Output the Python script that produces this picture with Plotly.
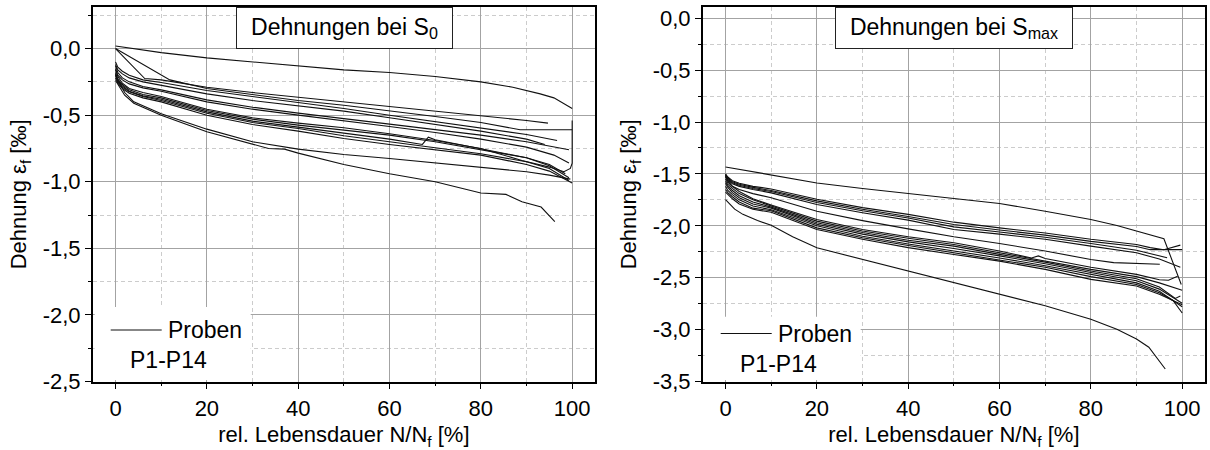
import plotly.graph_objects as go

# ---------------- data: left panel "Dehnungen bei S0" ----------------
S0_P1_X = [0, 10, 20, 30, 40, 50, 60, 70, 80, 87, 93, 96, 100]
S0_P1_Y = [0.02, -0.03, -0.07, -0.10, -0.13, -0.16, -0.18, -0.21, -0.25, -0.29, -0.34, -0.37, -0.45]
S0_P2_X = [0, 6.4, 10, 20, 30, 40, 50, 60, 70, 80, 90, 94.7]
S0_P2_Y = [0, -0.225, -0.235, -0.29, -0.33, -0.365, -0.40, -0.435, -0.47, -0.50, -0.54, -0.56]
S0_P3_X = [0, 11.9, 20, 30, 40, 50, 60, 70, 80, 88.6, 100]
S0_P3_Y = [0, -0.235, -0.30, -0.345, -0.39, -0.425, -0.465, -0.51, -0.555, -0.61, -0.61]
S0_P4_X = [0, 0.5, 1.5, 3, 6, 10, 20, 30, 40, 50, 60, 70, 80, 90, 96.7]
S0_P4_Y = [-0.10, -0.14, -0.17, -0.20, -0.235, -0.255, -0.315, -0.36, -0.40, -0.45, -0.50, -0.55, -0.595, -0.645, -0.69]
S0_P5_X = [0, 0.5, 1.5, 3, 6, 10, 20, 30, 40, 50, 60, 70, 80, 90, 94]
S0_P5_Y = [-0.12, -0.16, -0.19, -0.22, -0.25, -0.275, -0.34, -0.39, -0.43, -0.47, -0.52, -0.57, -0.62, -0.68, -0.72]
S0_P6_X = [0, 0.5, 1.5, 3, 6, 10, 20, 30, 40, 50, 60, 70, 80, 90, 99.3]
S0_P6_Y = [-0.13, -0.18, -0.22, -0.25, -0.285, -0.31, -0.385, -0.44, -0.485, -0.525, -0.565, -0.605, -0.65, -0.70, -0.76]
S0_P7_X = [0, 0.5, 1.5, 3, 6, 10, 20, 30, 40, 50, 60, 70, 80, 90, 96, 99.3]
S0_P7_Y = [-0.15, -0.20, -0.235, -0.265, -0.295, -0.32, -0.40, -0.455, -0.50, -0.54, -0.585, -0.63, -0.68, -0.74, -0.80, -0.86]
S0_P8_X = [0, 0.5, 1.5, 3, 6, 10, 20, 30, 40, 50, 60, 70, 80, 89, 95, 98.2, 99.6, 100, 100]
S0_P8_Y = [-0.16, -0.21, -0.26, -0.30, -0.33, -0.36, -0.455, -0.52, -0.56, -0.595, -0.64, -0.69, -0.75, -0.84, -0.89, -0.925, -0.90, -0.86, -0.54]
S0_P9_X = [0, 0.5, 1.5, 3, 6, 10, 20, 30, 40, 50, 60, 70, 80, 90, 95, 98.5]
S0_P9_Y = [-0.18, -0.23, -0.27, -0.31, -0.345, -0.37, -0.465, -0.53, -0.575, -0.61, -0.65, -0.70, -0.76, -0.82, -0.87, -0.94]
S0_P10_X = [0, 0.5, 1.5, 3, 6, 10, 20, 30, 40, 50, 60, 67.2, 68.5, 70, 80, 90, 95, 99.3]
S0_P10_Y = [-0.19, -0.24, -0.28, -0.32, -0.355, -0.38, -0.475, -0.545, -0.59, -0.635, -0.68, -0.72, -0.665, -0.685, -0.75, -0.82, -0.88, -0.97]
S0_P11_X = [0, 0.5, 1.5, 3, 6, 10, 20, 30, 40, 50, 60, 70, 80, 90, 95, 99.3]
S0_P11_Y = [-0.20, -0.25, -0.29, -0.325, -0.36, -0.39, -0.485, -0.555, -0.60, -0.655, -0.70, -0.745, -0.79, -0.85, -0.90, -0.99]
S0_P12_X = [0, 0.5, 1.5, 3, 6, 10, 20, 30, 40, 50, 60, 70, 80, 90, 95, 100]
S0_P12_Y = [-0.22, -0.26, -0.30, -0.335, -0.37, -0.40, -0.50, -0.57, -0.62, -0.675, -0.72, -0.76, -0.80, -0.87, -0.92, -1.01]
S0_P13_X = [0, 1, 2, 4, 10, 20, 30, 40, 50, 60, 70, 80, 90, 95, 99.6]
S0_P13_Y = [-0.20, -0.27, -0.33, -0.40, -0.49, -0.605, -0.70, -0.755, -0.795, -0.825, -0.86, -0.89, -0.925, -0.95, -0.98]
S0_P14_X = [0, 1, 2, 4, 10, 20, 30, 33.5, 37, 40, 50, 60, 70, 80, 85.5, 89, 93.2, 96.2]
S0_P14_Y = [-0.24, -0.30, -0.35, -0.41, -0.50, -0.625, -0.72, -0.75, -0.755, -0.785, -0.87, -0.94, -1.00, -1.085, -1.095, -1.15, -1.19, -1.30]

# ---------------- data: right panel "Dehnungen bei Smax" ----------------
SM_P1_X = [0, 10, 20, 30, 40, 50, 60, 70, 80, 85.7, 90, 93, 96, 99.8]
SM_P1_Y = [-1.433, -1.507, -1.587, -1.64, -1.69, -1.741, -1.785, -1.86, -1.94, -1.997, -2.05, -2.09, -2.125, -2.565]
SM_P2_X = [0, 0.5, 1.5, 3, 6, 10, 20, 30, 40, 50, 60, 70, 80, 90, 93, 96, 99.6]
SM_P2_Y = [-1.50, -1.53, -1.565, -1.59, -1.62, -1.645, -1.745, -1.825, -1.89, -1.965, -2.02, -2.07, -2.13, -2.18, -2.21, -2.23, -2.186]
SM_P3_X = [0, 0.5, 1.5, 3, 6, 10, 20, 30, 40, 50, 60, 70, 80, 90, 93, 100]
SM_P3_Y = [-1.505, -1.54, -1.575, -1.60, -1.63, -1.66, -1.76, -1.84, -1.91, -1.987, -2.04, -2.09, -2.15, -2.20, -2.23, -2.23]
SM_P4_X = [0, 0.5, 1.5, 3, 6, 10, 20, 30, 40, 50, 60, 70, 80, 90, 96.7]
SM_P4_Y = [-1.51, -1.55, -1.585, -1.61, -1.64, -1.67, -1.775, -1.855, -1.925, -2.01, -2.06, -2.11, -2.17, -2.235, -2.308]
SM_P5_X = [0, 0.5, 1.5, 3, 6, 10, 20, 30, 40, 50, 60, 70, 80, 90, 95, 99.6]
SM_P5_Y = [-1.515, -1.56, -1.595, -1.62, -1.65, -1.683, -1.795, -1.875, -1.945, -2.036, -2.08, -2.13, -2.196, -2.26, -2.32, -2.40]
SM_P6_X = [0, 0.5, 1.5, 3, 6, 10, 20, 30, 40, 50, 60, 70, 80, 85, 95.1]
SM_P6_Y = [-1.52, -1.57, -1.62, -1.65, -1.69, -1.73, -1.86, -1.95, -2.03, -2.106, -2.17, -2.243, -2.324, -2.355, -2.37]
SM_P7_X = [0, 0.5, 1.5, 3, 6, 10, 20, 30, 40, 50, 60, 67, 68.5, 70, 80, 90, 95, 97, 99]
SM_P7_Y = [-1.53, -1.57, -1.62, -1.67, -1.74, -1.80, -1.94, -2.036, -2.106, -2.164, -2.243, -2.31, -2.29, -2.315, -2.40, -2.468, -2.52, -2.525, -2.485]
SM_P8_X = [0, 0.5, 1.5, 3, 6, 10, 20, 30, 40, 50, 60, 70, 80, 90, 95, 100]
SM_P8_Y = [-1.55, -1.59, -1.64, -1.69, -1.75, -1.81, -1.955, -2.05, -2.12, -2.18, -2.26, -2.335, -2.42, -2.49, -2.55, -2.62]
SM_P9_X = [0, 0.5, 1.5, 3, 6, 10, 20, 30, 40, 50, 60, 70, 80, 90, 95, 98.5, 99.6]
SM_P9_Y = [-1.57, -1.61, -1.66, -1.71, -1.77, -1.82, -1.97, -2.065, -2.14, -2.196, -2.275, -2.35, -2.435, -2.51, -2.59, -2.70, -2.676]
SM_P10_X = [0, 0.5, 1.5, 3, 6, 10, 20, 30, 40, 50, 60, 70, 80, 90, 95, 100]
SM_P10_Y = [-1.59, -1.63, -1.68, -1.73, -1.79, -1.83, -1.985, -2.08, -2.155, -2.218, -2.29, -2.365, -2.45, -2.53, -2.61, -2.747]
SM_P11_X = [0, 0.5, 1.5, 3, 6, 10, 20, 30, 40, 50, 60, 70, 80, 90, 95, 100]
SM_P11_Y = [-1.62, -1.66, -1.70, -1.75, -1.81, -1.845, -2.00, -2.10, -2.175, -2.24, -2.31, -2.385, -2.47, -2.55, -2.63, -2.78]
SM_P12_X = [0, 0.5, 1.5, 3, 6, 10, 20, 30, 40, 50, 60, 70, 80, 90, 95, 98, 100]
SM_P12_Y = [-1.65, -1.68, -1.72, -1.77, -1.83, -1.855, -2.02, -2.115, -2.19, -2.26, -2.325, -2.40, -2.49, -2.565, -2.645, -2.72, -2.84]
SM_P13_X = [0, 0.5, 1.5, 3, 6, 10, 20, 30, 40, 50, 60, 70, 80, 90, 95, 100]
SM_P13_Y = [-1.676, -1.70, -1.74, -1.79, -1.84, -1.87, -2.036, -2.13, -2.21, -2.276, -2.34, -2.42, -2.516, -2.58, -2.66, -2.76]
SM_P14_X = [0, 1, 2, 3.8, 7, 10, 14.7, 20, 30, 40, 50, 60, 70, 80, 85.7, 90, 92.7, 96.3]
SM_P14_Y = [-1.747, -1.79, -1.84, -1.89, -1.95, -1.995, -2.106, -2.212, -2.325, -2.436, -2.548, -2.66, -2.77, -2.90, -2.997, -3.09, -3.17, -3.38]

# ---------------- tick labels ----------------
X_TICKS = [0, 20, 40, 60, 80, 100]
X_TICKTEXT = ["0", "20", "40", "60", "80", "100"]
X_MINOR = [10, 30, 50, 70, 90]
S0_YTICKS = [0, -0.5, -1.0, -1.5, -2.0, -2.5]
S0_YTICKTEXT = ["0,0", "-0,5", "-1,0", "-1,5", "-2,0", "-2,5"]
S0_YMINOR = [0.25, -0.25, -0.75, -1.25, -1.75, -2.25]
SM_YTICKS = [0, -0.5, -1.0, -1.5, -2.0, -2.5, -3.0, -3.5]
SM_YTICKTEXT = ["0,0", "-0,5", "-1,0", "-1,5", "-2,0", "-2,5", "-3,0", "-3,5"]
SM_YMINOR = [-0.25, -0.75, -1.25, -1.75, -2.25, -2.75, -3.25]

S0_CURVES = [(S0_P1_X, S0_P1_Y), (S0_P2_X, S0_P2_Y), (S0_P3_X, S0_P3_Y), (S0_P4_X, S0_P4_Y),
             (S0_P5_X, S0_P5_Y), (S0_P6_X, S0_P6_Y), (S0_P7_X, S0_P7_Y), (S0_P8_X, S0_P8_Y),
             (S0_P9_X, S0_P9_Y), (S0_P10_X, S0_P10_Y), (S0_P11_X, S0_P11_Y), (S0_P12_X, S0_P12_Y),
             (S0_P13_X, S0_P13_Y), (S0_P14_X, S0_P14_Y)]
SM_CURVES = [(SM_P1_X, SM_P1_Y), (SM_P2_X, SM_P2_Y), (SM_P3_X, SM_P3_Y), (SM_P4_X, SM_P4_Y),
             (SM_P5_X, SM_P5_Y), (SM_P6_X, SM_P6_Y), (SM_P7_X, SM_P7_Y), (SM_P8_X, SM_P8_Y),
             (SM_P9_X, SM_P9_Y), (SM_P10_X, SM_P10_Y), (SM_P11_X, SM_P11_Y), (SM_P12_X, SM_P12_Y),
             (SM_P13_X, SM_P13_Y), (SM_P14_X, SM_P14_Y)]

W, H = 1210, 450
FONT = "Arial, Liberation Sans, sans-serif"
TICK_SIZE = 22
TITLE_SIZE = 22
BOX_SIZE = 23
LEG_SIZE = 23


def px(x):
    return x / W


def py(y):
    return 1 - y / H


fig = go.Figure()
for cx, cy in S0_CURVES:
    fig.add_trace(go.Scatter(x=cx, y=cy, mode="lines", line=dict(color="#111111", width=1.1),
                             showlegend=False, hoverinfo="skip", xaxis="x", yaxis="y"))
for cx, cy in SM_CURVES:
    fig.add_trace(go.Scatter(x=cx, y=cy, mode="lines", line=dict(color="#111111", width=1.1),
                             showlegend=False, hoverinfo="skip", xaxis="x2", yaxis="y2"))

common_axis = dict(
    showline=True, linecolor="black", linewidth=1.5, mirror=True,
    ticks="outside", ticklen=6, tickwidth=1.2, tickcolor="black",
    showgrid=True, gridcolor="#a3a3a3", gridwidth=1, zeroline=False,
    tickfont=dict(family=FONT, size=TICK_SIZE, color="black"),
    automargin=False,
)
minor_common = dict(ticks="outside", ticklen=3, tickwidth=1, tickcolor="black",
                    showgrid=True, gridcolor="#cccccc", gridwidth=1, griddash="4px,3px")

xt = dict(text="rel. Lebensdauer N/N<sub>f</sub> [%]", font=dict(family=FONT, size=TITLE_SIZE, color="black"), standoff=8)
yt = dict(text="Dehnung ε<sub>f</sub> [‰]", font=dict(family=FONT, size=TITLE_SIZE, color="black"), standoff=10)

ydom = [py(381.5), py(7.3)]
fig.update_layout(
    width=W, height=H, autosize=False,
    margin=dict(l=0, r=0, t=0, b=0),
    paper_bgcolor="white", plot_bgcolor="white",
    font=dict(family=FONT, color="black"),
    xaxis=dict(common_axis, domain=[px(92.7), px(595)], range=[-5, 105],
               tickmode="array", tickvals=X_TICKS, ticktext=X_TICKTEXT,
               minor=dict(minor_common, tickvals=X_MINOR), title=xt, anchor="y"),
    yaxis=dict(common_axis, domain=ydom, range=[-2.5, 0.31],
               tickmode="array", tickvals=S0_YTICKS, ticktext=S0_YTICKTEXT,
               minor=dict(minor_common, tickvals=S0_YMINOR), title=yt, anchor="x"),
    xaxis2=dict(common_axis, domain=[px(702.7), px(1205)], range=[-5, 105],
                tickmode="array", tickvals=X_TICKS, ticktext=X_TICKTEXT,
                minor=dict(minor_common, tickvals=X_MINOR), title=xt, anchor="y2"),
    yaxis2=dict(common_axis, domain=ydom, range=[-3.5, 0.105],
                tickmode="array", tickvals=SM_YTICKS, ticktext=SM_YTICKTEXT,
                minor=dict(minor_common, tickvals=SM_YMINOR), title=yt, anchor="x2"),
)

shapes = []
annotations = []

# Title boxes
for (x0, x1, label) in [(236, 453, "Dehnungen bei S<sub>0</sub>"), (835, 1073, "Dehnungen bei S<sub>max</sub>")]:
    annotations.append(dict(
        xref="paper", yref="paper", x=px(x0), y=py(7.3), xanchor="left", yanchor="top",
        width=x1 - x0 - 2, height=40, align="center", valign="middle",
        text=label, showarrow=False, bgcolor="white", bordercolor="#222222", borderwidth=1, borderpad=0,
        font=dict(family=FONT, size=BOX_SIZE, color="black")))

# Legend blocks (white background, line sample, text)
for (ax0, top, dy) in [(92.7, 307, 0), (702.7, 316.7, 3.5)]:
    shapes.append(dict(type="rect", xref="paper", yref="paper", layer="above",
                       x0=px(ax0 + 2), x1=px(ax0 + 158), y0=py(380), y1=py(top),
                       fillcolor="white", line=dict(width=0)))
    shapes.append(dict(type="line", xref="paper", yref="paper", layer="above",
                       x0=px(ax0 + 18), x1=px(ax0 + 69), y0=py(330 + dy), y1=py(330 + dy),
                       line=dict(color="#111111", width=1.2)))
    annotations.append(dict(xref="paper", yref="paper", x=px(ax0 + 73), y=py(330 + dy),
                            xanchor="left", yanchor="middle", text="Proben", showarrow=False,
                            font=dict(family=FONT, size=LEG_SIZE, color="black")))
    annotations.append(dict(xref="paper", yref="paper", x=px(ax0 + 35), y=py(360 + dy),
                            xanchor="left", yanchor="middle", text="P1-P14", showarrow=False,
                            font=dict(family=FONT, size=LEG_SIZE, color="black")))

fig.update_layout(shapes=shapes, annotations=annotations)
fig.write_html("out.html", config={"displayModeBar": False},
               post_script="document.body.style.margin='0px';document.body.style.overflow='hidden';")
